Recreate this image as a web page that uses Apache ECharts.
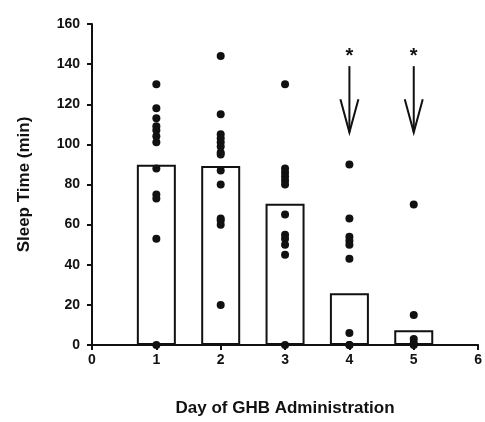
<!DOCTYPE html>
<html>
<head>
<meta charset="utf-8">
<script src="https://cdn.jsdelivr.net/npm/echarts@6/dist/echarts.min.js"></script>
<style>
  html, body { margin: 0; padding: 0; background: #fff; }
  #chart { width: 485px; height: 422px; }
</style>
</head>
<body>
<div id="chart"></div>
<script>
// mean sleep time per day (bars)
const days = [1, 2, 3, 4, 5];
const meanSleep = [89.8, 89.2, 70.4, 25.8, 7.4];

// individual animals per day
const sleepDay1 = [130, 118, 113, 109, 107, 104, 101, 88, 75, 73, 53, 0];
const sleepDay2 = [144, 115, 105, 103, 101, 99, 96, 95, 87, 80, 63, 62, 60, 20];
const sleepDay3 = [130, 88, 86, 84, 82, 80, 65, 55, 53, 50, 45, 0];
const sleepDay4 = [90, 63, 54, 52, 50, 43, 6, 0, 0];
const sleepDay5 = [70, 15, 3, 1, 0];

// significance arrows
const arrowDays = [4, 5];
const arrowTop = 139;
const arrowBottom = 106;
const starLevel = 144;

const yTicks = [0, 20, 40, 60, 80, 100, 120, 140, 160];
const xTicks = [0, 1, 2, 3, 4, 5, 6];

const perDay = [sleepDay1, sleepDay2, sleepDay3, sleepDay4, sleepDay5];
const dots = [];
perDay.forEach((vals, i) => {
  vals.forEach(v => dots.push([days[i], v]));
});

const font = 'Liberation Sans, Arial, sans-serif';
const ink = '#111';

const chart = echarts.init(document.getElementById('chart'), null, { renderer: 'canvas' });

chart.setOption({
  animation: false,
  backgroundColor: '#fff',
  grid: { left: 92, right: 3, top: 24, bottom: 73, containLabel: false },
  xAxis: {
    type: 'value',
    min: xTicks[0],
    max: xTicks[xTicks.length - 1],
    interval: 1,
    name: 'Day of GHB Administration',
    nameLocation: 'middle',
    nameGap: 55,
    nameTextStyle: { fontFamily: font, fontWeight: 'bold', fontSize: 17, color: ink },
    axisLine: { show: true, onZero: false, lineStyle: { color: ink, width: 2 } },
    axisTick: { show: true, inside: false, length: 5, lineStyle: { color: ink, width: 2 } },
    axisLabel: { fontFamily: font, fontWeight: 'bold', fontSize: 14, color: ink, margin: 8 },
    splitLine: { show: false }
  },
  yAxis: {
    type: 'value',
    min: yTicks[0],
    max: yTicks[yTicks.length - 1],
    interval: 20,
    name: 'Sleep Time (min)',
    nameLocation: 'middle',
    nameGap: 59,
    nameTextStyle: { fontFamily: font, fontWeight: 'bold', fontSize: 17, color: ink },
    axisLine: { show: true, onZero: false, lineStyle: { color: ink, width: 2 } },
    axisTick: { show: true, inside: false, length: 5, lineStyle: { color: ink, width: 2 } },
    axisLabel: { fontFamily: font, fontWeight: 'bold', fontSize: 14, color: ink, margin: 12 },
    splitLine: { show: false }
  },
  series: [
    {
      type: 'bar',
      data: days.map((d, i) => [d, meanSleep[i]]),
      barWidth: 39,
      itemStyle: { color: '#fff', borderColor: ink, borderWidth: 2 },
      z: 2
    },
    {
      type: 'scatter',
      data: dots,
      symbol: 'circle',
      symbolSize: 8,
      itemStyle: { color: ink, opacity: 1 },
      z: 3
    },
    {
      type: 'custom',
      data: arrowDays.map(d => [d, arrowTop, arrowBottom, starLevel]),
      renderItem: (params, api) => {
        const top = api.coord([api.value(0), api.value(1)]);
        const tip = api.coord([api.value(0), api.value(2)]);
        const star = api.coord([api.value(0), api.value(3)]);
        const style = { stroke: ink, lineWidth: 2, fill: null };
        return {
          type: 'group',
          children: [
            { type: 'line', shape: { x1: top[0], y1: top[1], x2: tip[0], y2: tip[1] }, style },
            { type: 'polyline', shape: { points: [[tip[0] - 9, tip[1] - 33], [tip[0], tip[1]], [tip[0] + 9, tip[1] - 33]] }, style },
            { type: 'text', style: { text: '*', x: star[0], y: star[1], align: 'center', verticalAlign: 'middle', fill: ink, font: 'bold 20px ' + font } }
          ]
        };
      },
      z: 4
    }
  ]
});
</script>
</body>
</html>
